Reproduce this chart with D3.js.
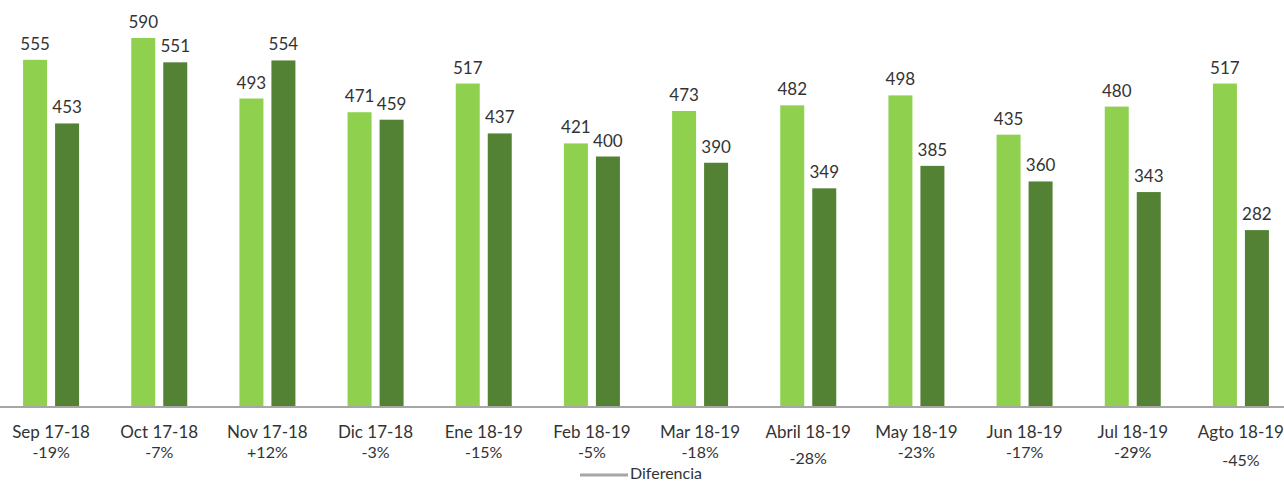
<!DOCTYPE html>
<html lang="es">
<head>
<meta charset="UTF-8">
<title>Diferencia</title>
<script src="https://cdn.jsdelivr.net/npm/d3@7"></script>
<style>
  body { margin: 0; background: #fff; }
  text { font-family: Lato, "Open Sans", sans-serif; fill: #333; }
</style>
</head>
<body>
<svg id="chart" width="1284" height="484"></svg>
<script>
// data
var months = ["Sep 17-18", "Oct 17-18", "Nov 17-18", "Dic 17-18", "Ene 18-19", "Feb 18-19",
              "Mar 18-19", "Abril 18-19", "May 18-19", "Jun 18-19", "Jul 18-19", "Agto 18-19"];
var prevYear = [555, 590, 493, 471, 517, 421, 473, 482, 498, 435, 480, 517];
var thisYear = [453, 551, 554, 459, 437, 400, 390, 349, 385, 360, 343, 282];
var diffs = ["-19%", "-7%", "+12%", "-3%", "-15%", "-5%", "-18%", "-28%", "-23%", "-17%", "-29%", "-45%"];

var svg = d3.select("#chart");
var base = 406;

var x = d3.scaleBand().domain(months).range([-3, 1295]);
var sub = d3.scaleBand().domain([0, 1]).range([0, 64]);
var y = d3.scaleLinear().domain([0, 590]).range([base, 38]);
var colors = ["#8fd14f", "#538234"];

var groups = svg.selectAll("g.grp")
  .data(months)
  .enter().append("g")
    .attr("class", "grp")
    .attr("transform", function(d) { return "translate(" + (x(d) + x.bandwidth() / 2 - 28) + ",0)"; });

groups.each(function(m, i) {
  var g = d3.select(this);
  var vals = [prevYear[i], thisYear[i]];
  vals.forEach(function(v, k) {
    g.append("rect")
      .attr("x", sub(k))
      .attr("width", 24)
      .attr("y", y(v))
      .attr("height", base - y(v))
      .attr("fill", colors[k]);
    g.append("text")
      .attr("x", sub(k) + 12)
      .attr("y", y(v) - 10)
      .attr("text-anchor", "middle")
      .attr("font-size", 17)
      .text(v);
  });
});

// axis line
svg.append("line")
  .attr("x1", 0).attr("x2", 1284)
  .attr("y1", base + 1).attr("y2", base + 1)
  .attr("stroke", "#a6a6a6")
  .attr("stroke-width", 2);

// category labels
var lowered = { "Abril 18-19": 6, "Agto 18-19": 8 };
months.forEach(function(m, i) {
  var cx = x(m) + x.bandwidth() / 2;
  svg.append("text")
    .attr("x", cx).attr("y", 438)
    .attr("text-anchor", "middle")
    .attr("font-size", 17)
    .text(m);
  svg.append("text")
    .attr("x", cx).attr("y", 458 + (lowered[m] || 0))
    .attr("text-anchor", "middle")
    .attr("font-size", 16)
    .text(diffs[i]);
});

// legend
svg.append("line")
  .attr("x1", 580).attr("x2", 628)
  .attr("y1", 475).attr("y2", 475)
  .attr("stroke", "#a6a6a6")
  .attr("stroke-width", 3);
svg.append("text")
  .attr("x", 630).attr("y", 479)
  .attr("font-size", 16)
  .text("Diferencia");
</script>
</body>
</html>
